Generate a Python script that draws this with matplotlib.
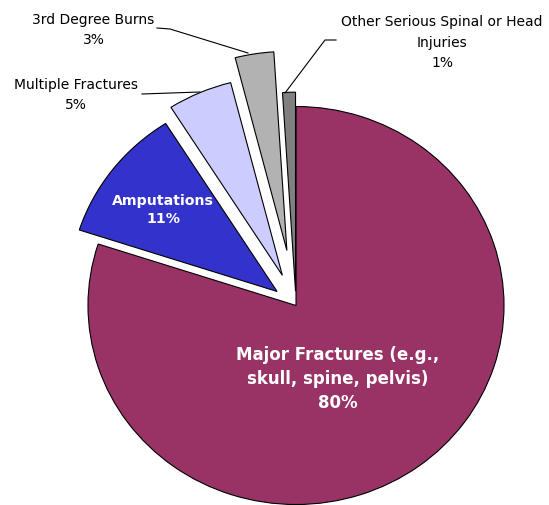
import matplotlib
matplotlib.use("Agg")
import matplotlib.pyplot as plt

categories = ["Major Fractures (e.g.,\nskull, spine, pelvis)", "Amputations",
              "Multiple Fractures", "3rd Degree Burns",
              "Other Serious Spinal or Head\nInjuries"]
values = [80, 11, 5, 3, 1]
pct_labels = ["80%", "11%", "5%", "3%", "1%"]
colors = ["#993366", "#3333CC", "#CCCCFF", "#B2B2B2", "#808080"]
explode = [0.0, 0.115, 0.165, 0.28, 0.072]

W, H = 549, 506
fig = plt.figure(figsize=(W / 100, H / 100), dpi=100)
ax = fig.add_axes([0, 0, 1, 1])

cx, cy, rx, ry = 296, 306.5, 208, 199


def px(x, y):
    return ((x - cx) / rx, (cy - y) / ry)


wedges, _ = ax.pie(values, colors=colors, startangle=90, counterclock=False,
                   explode=explode, radius=1,
                   wedgeprops=dict(edgecolor="black", linewidth=0.8))
ax.set_aspect("auto")
ax.set_xlim(-cx / rx, (W - cx) / rx)
ax.set_ylim((cy - H) / ry, cy / ry)
ax.axis("off")

font = "DejaVu Sans"
# inside labels
ax.text(*px(338, 379), f"{categories[0]}\n{pct_labels[0]}", ha="center", va="center",
        color="white", fontweight="bold", fontsize=12, family=font, linespacing=1.45)
ax.text(*px(163, 210), f"{categories[1]}\n{pct_labels[1]}", ha="center", va="center",
        color="white", fontweight="bold", fontsize=10.2, family=font, linespacing=1.41)

# outside labels
ax.text(*px(75.5, 95), f"{categories[2]}\n{pct_labels[2]}", ha="center", va="center",
        color="black", fontsize=10, family=font, linespacing=1.6)
ax.text(*px(93.5, 30), f"{categories[3]}\n{pct_labels[3]}", ha="center", va="center",
        color="black", fontsize=10, family=font, linespacing=1.6)
ax.text(*px(442, 42.5), f"{categories[4]}\n{pct_labels[4]}", ha="center", va="center",
        color="black", fontsize=10, family=font, linespacing=1.6)

# leader lines
def leader(pts):
    xs, ys = zip(*[px(x, y) for x, y in pts])
    ax.plot(xs, ys, color="black", linewidth=0.8)

leader([(142, 95), (200, 93)])
leader([(157, 29), (170, 30), (248, 54)])
leader([(336, 41), (325, 41), (285, 94)])

fig.savefig("out.png", dpi=100)
